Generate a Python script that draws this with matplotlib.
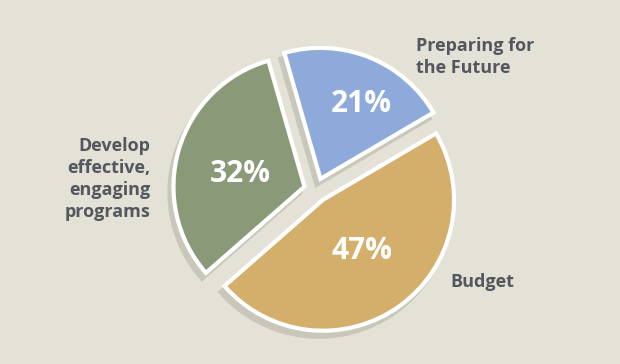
import numpy as np
import matplotlib

matplotlib.use('Agg')
import matplotlib.pyplot as plt

# data
labels = ['Preparing for\nthe Future', 'Budget', 'Develop\neffective,\nengaging\nprograms']
shares = [21, 47, 32]
colors = ['#8eaadb', '#d4ae6b', '#8a9a78']

# styling / layout (pixel units, y up)
bg = '#e4e1d6'
shadow_col = '#c9c6ba'
text_col = '#53575e'
cx, cy, r = 316, 174, 131
explode = [12, 12, 12]  # pie() takes these in data units, here pixels
pct_dist = [0.65, 0.49, 0.5]
pct_turn = [-7, 1.5, 5.3]  # degrees off the wedge bisector
label_pos = [(416, 307, 'left'), (450, 82, 'left'), (150, 185, 'right')]

plt.rcParams['font.family'] = ['Open Sans', 'DejaVu Sans']

fig = plt.figure(figsize=(6.2, 3.64), dpi=100)
fig.patch.set_facecolor(bg)
ax = fig.add_axes([0, 0, 1, 1])
ax.set_facecolor(bg)

# shadow copy, shifted down-left
ax.pie(shares, explode=explode, center=(cx - 4, cy - 6), radius=r,
       colors=[shadow_col] * len(shares), startangle=106, counterclock=False,
       wedgeprops=dict(edgecolor=shadow_col, linewidth=3))

wedges, _ = ax.pie(shares, explode=explode, center=(cx, cy), radius=r,
                   colors=colors, startangle=106, counterclock=False,
                   wedgeprops=dict(edgecolor='white', linewidth=3))

for w, val, d, turn in zip(wedges, shares, pct_dist, pct_turn):
    ang = np.deg2rad((w.theta1 + w.theta2) / 2 + turn)
    x0, y0 = w.center
    ax.text(x0 + d * r * np.cos(ang), y0 + d * r * np.sin(ang), '{0:d}%'.format(val),
            color='white', fontsize=21.5, fontweight='bold', ha='center', va='center')

for lab, (x, y, ha) in zip(labels, label_pos):
    ax.text(x, y, lab, color=text_col, fontsize=13, fontweight='bold',
            ha=ha, va='center', multialignment=ha, linespacing=1.27)

ax.set_aspect('equal')
ax.set_xlim(0, 620)
ax.set_ylim(0, 364)
ax.axis('off')

fig.savefig('out.png', dpi=100, facecolor=bg)
